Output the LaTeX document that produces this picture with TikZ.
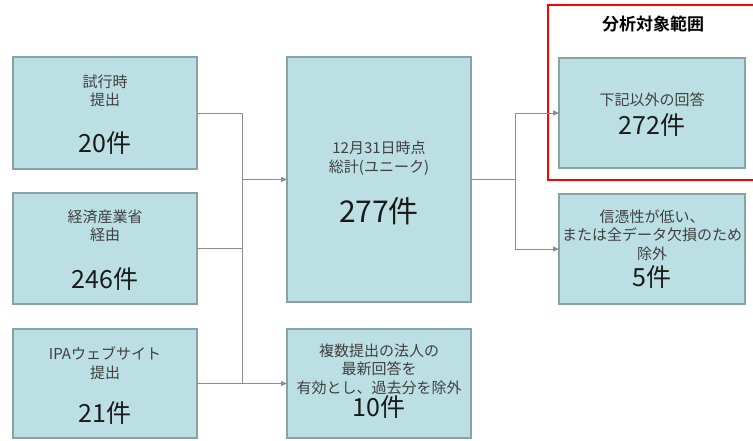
\documentclass[tikz,border=0pt]{standalone}
\usepackage{fontspec}
\setmainfont{Noto Sans CJK JP}
\newfontfamily\jpbold[BoldFont={* Bold}]{Noto Sans CJK JP}
\usetikzlibrary{arrows.meta}
\definecolor{boxfill}{HTML}{BBDFE3}
\definecolor{boxline}{HTML}{86A3A5}
\definecolor{conn}{HTML}{8C8C8C}
\definecolor{smalltxt}{HTML}{404040}
\definecolor{bigtxt}{HTML}{1A1A1A}
\definecolor{redframe}{HTML}{FF0000}
\begin{document}
\begin{tikzpicture}[x=1pt,y=-1pt,
  box/.style={draw=boxline,fill=boxfill,line width=1.5pt,inner sep=0pt,outer sep=0pt},
  small/.style={inner sep=0pt,align=center,text=smalltxt,font=\fontsize{15}{18.5}\selectfont},
  big/.style={inner sep=0pt,text=bigtxt,font=\fontsize{25}{28}\selectfont},
  huge/.style={inner sep=0pt,text=bigtxt,font=\fontsize{30}{34}\selectfont},
  conline/.style={draw=conn,line width=1pt},
  conarrow/.style={conline,-{Triangle[length=6pt,width=5pt]}}]
\useasboundingbox (0,0) rectangle (753,440);
% boxes
\node[box,minimum width=184pt,minimum height=112pt] (b1) at (105,113) {};
\node[box,minimum width=184pt,minimum height=111pt] (b2) at (105,248.5) {};
\node[box,minimum width=184pt,minimum height=109pt] (b3) at (105,383.5) {};
\node[box,minimum width=184pt,minimum height=245pt] (tot) at (379,179.5) {};
\node[box,minimum width=184pt,minimum height=109pt] (dup) at (379,383.5) {};
\node[box,minimum width=186pt,minimum height=110pt] (ana) at (652,113) {};
\node[box,minimum width=186pt,minimum height=110pt] (exc) at (652,249) {};
% texts
\node[small] (t1) at (105,91) {試行時\\提出};
\node[big] (n1) at (105,143) {20件};
\node[small] (t2) at (105,226) {経済産業省\\経由};
\node[big] (n2) at (105,279) {246件};
\node[small] (t3) at (105,363) {IPAウェブサイト\\提出};
\node[big] (n3) at (105,413) {21件};
\node[small] (t4) at (379,158) {12月31日時点\\総計(ユニーク)};
\node[huge] (n4) at (379,211) {277件};
\node[small] (t5) at (379,369) {複数提出の法人の\\最新回答を\\有効とし、過去分を除外};
\node[big] (n5) at (379,407) {10件};
\node[small] (t6) at (652,100) {下記以外の回答};
\node[big] (n6) at (652,125) {272件};
\node[small] (t7) at (652,235) {信憑性が低い、\\または全データ欠損のため\\除外};
\node[big] (n7) at (652,277) {5件};
% red frame and title
\draw[redframe,line width=2pt] (753,5) -- (548,5) -- (548,180) -- (753,180);
\node[inner sep=0pt,font=\jpbold\bfseries\fontsize{17}{20}\selectfont,text=black] (ttl) at (653,24) {分析対象範囲};
% connectors
\coordinate (j) at (242,383.5);
\coordinate (k) at (515,179.5);
\draw[conline] (b1.east) -| (j);
\draw[conline] (b2.east) -- (b2.east -| j);
\draw[conline] (b3.east) -- (j);
\draw[conarrow] (j) -- (dup.west);
\draw[conarrow] (tot.west -| j) -- (tot.west);
\draw[conline] (tot.east) -- (k);
\draw[conarrow] (k) |- (ana.west);
\draw[conarrow] (k) |- (exc.west);
\end{tikzpicture}
\end{document}
